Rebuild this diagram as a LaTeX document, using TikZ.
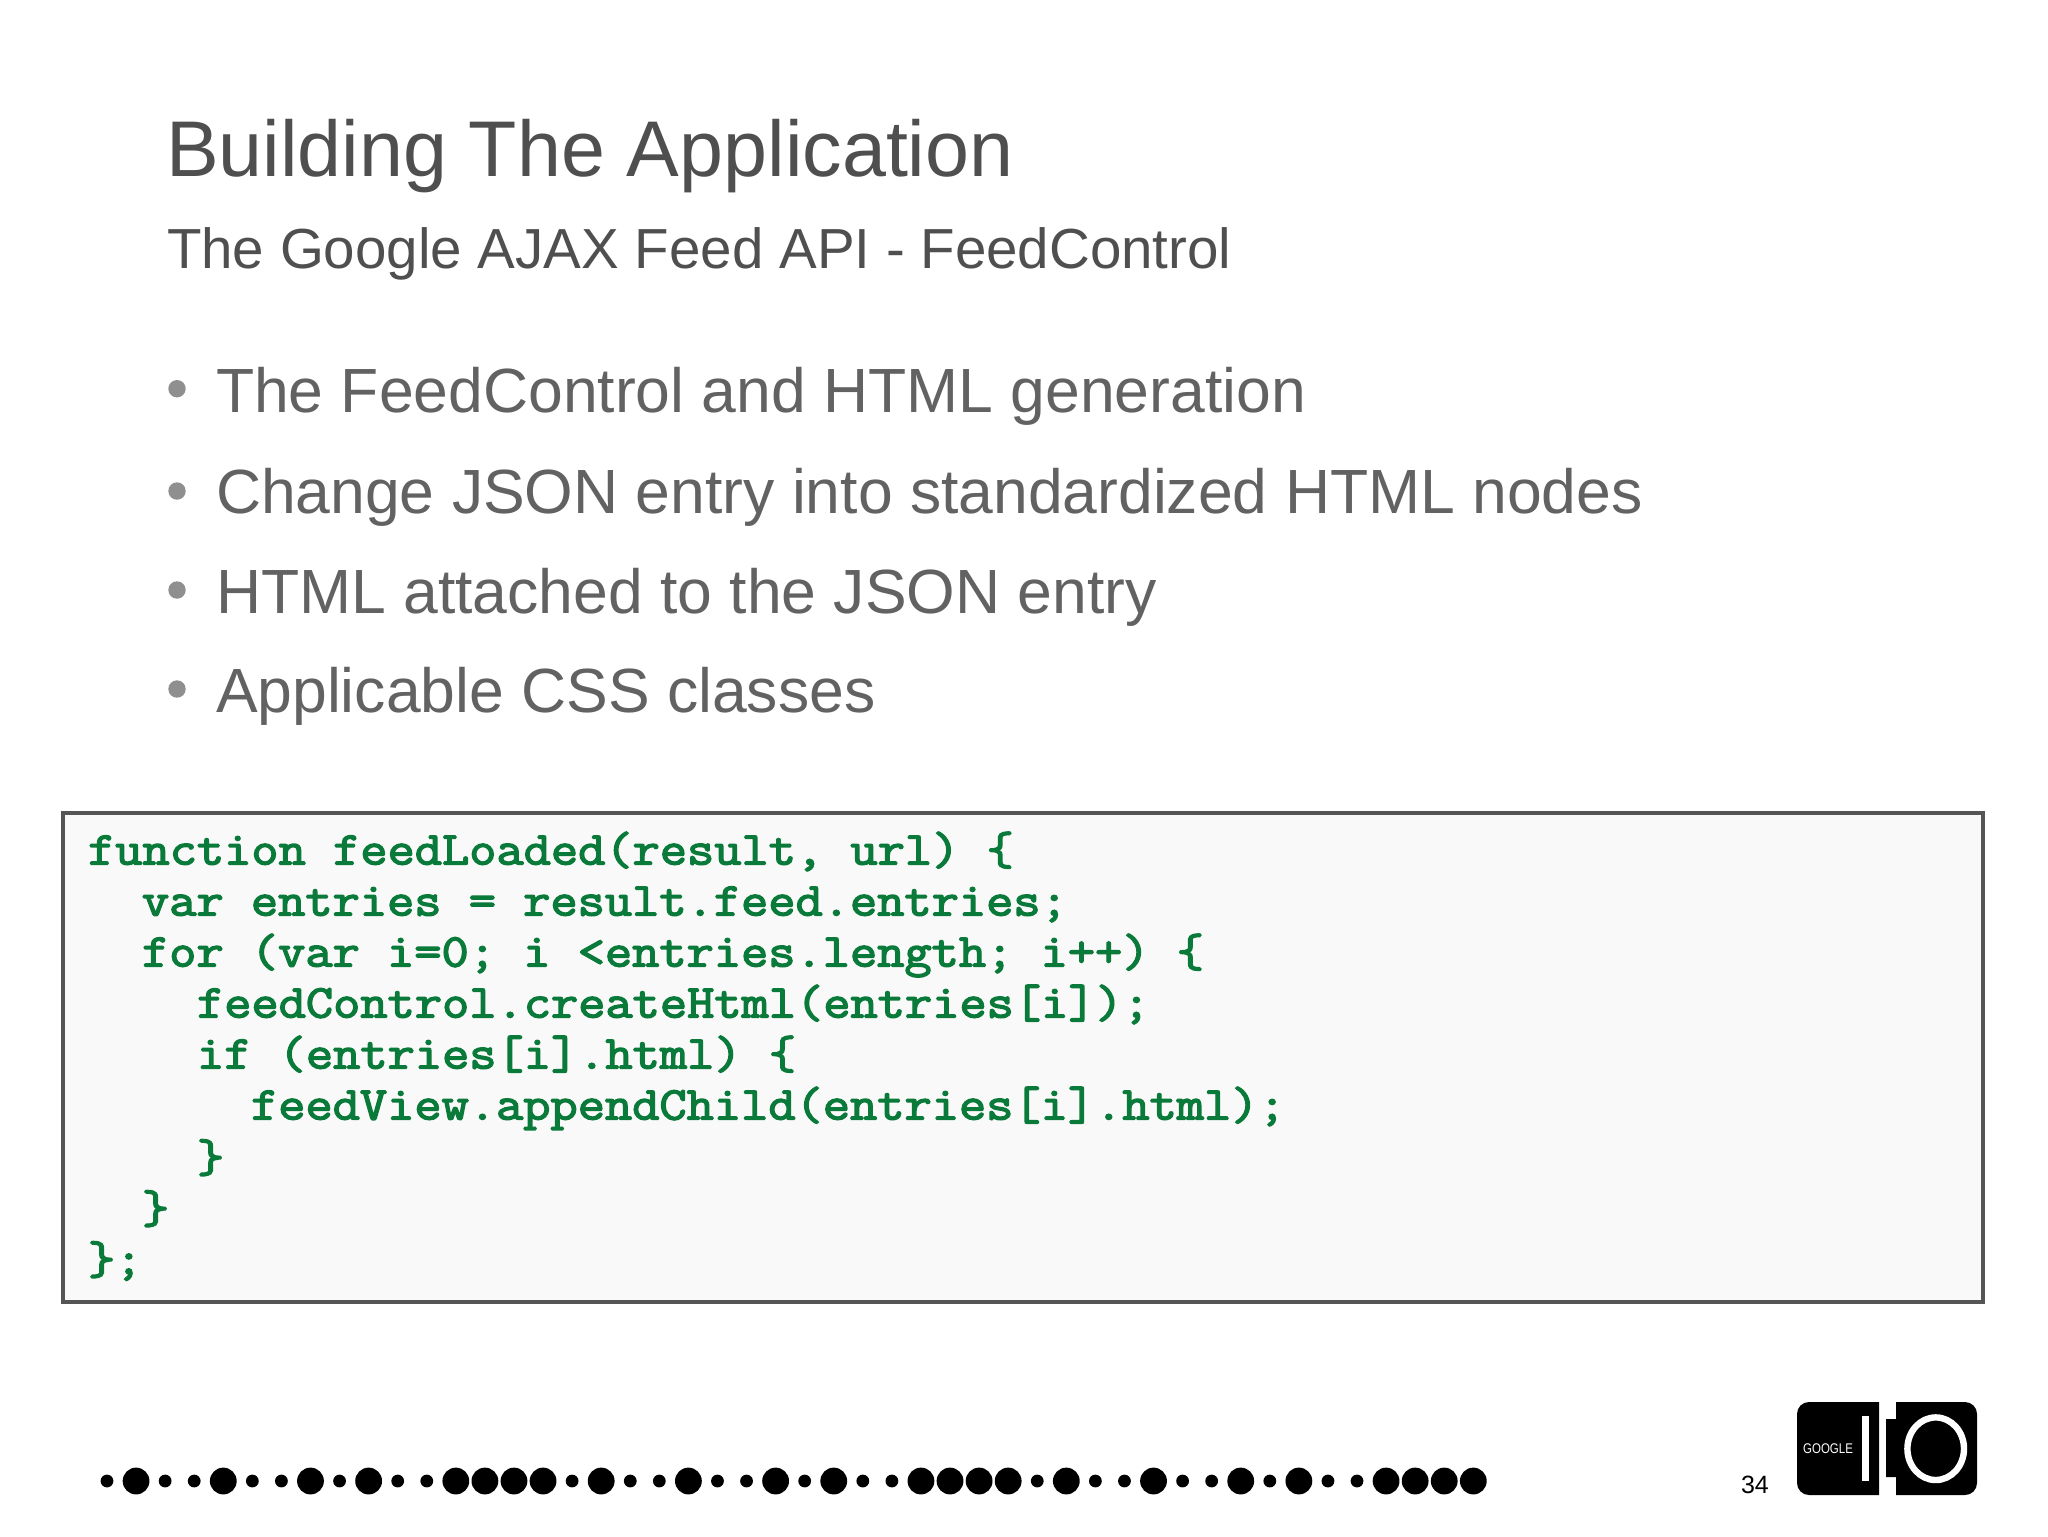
\documentclass[tikz,border=0pt]{standalone}
\usepackage{fontspec}
\setmainfont{Liberation Sans}
\newfontfamily\codefont{Latin Modern Mono}[FakeStretch=1.125,FakeBold=3]
\newfontfamily\logofont{Liberation Sans}[FakeStretch=0.82]
\definecolor{titlegray}{HTML}{4F4F4F}
\definecolor{bodygray}{HTML}{626262}
\definecolor{dotgray}{HTML}{8F8F8F}
\definecolor{framegray}{HTML}{555555}
\definecolor{codebg}{HTML}{F9F9F9}
\definecolor{codegreen}{HTML}{0A7A3A}
\newcommand{\fs}[1]{\fontsize{\dimexpr #1pt*3/4\relax}{\dimexpr #1pt*3/4\relax}\selectfont}
\tikzset{
  txt/.style={anchor=base west,inner sep=0pt,outer sep=0pt},
  titletext/.style={txt,text=titlegray,font=\fs{79}},
  subtext/.style={txt,text=titlegray,font=\fs{56.5}},
  bullettext/.style={txt,text=bodygray,font=\fs{62.45}},
  bulletdot/.style={fill=dotgray},
  codeline/.style={txt,text=codegreen,font=\codefont\fs{47}},
}
\begin{document}
\begin{tikzpicture}[x=0.75pt,y=-0.75pt]
\useasboundingbox (0,0) rectangle (2048,1536);
\fill[white] (0,0) rectangle (2048,1536);
\node[titletext] (title) at (166,176) {Building The Application};
\node[subtext] (subtitle) at (167,268.5) {The Google AJAX Feed API - FeedControl};
\node[bullettext] (b1) at (216,412) {The FeedControl and HTML generation};
\node[bullettext] (b2) at (216,513) {Change JSON entry into standardized HTML nodes};
\node[bullettext] (b3) at (216,613) {HTML attached to the JSON entry};
\node[bullettext] (b4) at (216,712) {Applicable CSS classes};
\foreach \yy in {388.7,491,590,689}{\fill[bulletdot] (177,\yy) circle[radius=8.7];}
\draw[framegray,line width=2.3pt,fill=codebg] (63,813) rectangle (1983,1302);
\node[codeline] (c1) at (88,864.5) {function feedLoaded(result, url) \{};
\node[codeline] (c2) at (142,915.5) {var entries = result.feed.entries;};
\node[codeline] (c3) at (142,966.5) {for (var i=0; i <entries.length; i++) \{};
\node[codeline] (c4) at (197,1017.5) {feedControl.createHtml(entries[i]);};
\node[codeline] (c5) at (197,1068.5) {if (entries[i].html) \{};
\node[codeline] (c6) at (251,1119.5) {feedView.appendChild(entries[i].html);};
\node[codeline] (c7) at (197,1172) {\}};
\node[codeline] (c8) at (142,1223) {\}};
\node[codeline] (c9) at (88,1274) {\};};
% dot rhythm
\foreach \i in {0,2,3,5,6,8,10,11,16,18,19,21,22,24,26,27,32,34,35,37,38,40,42,43}{\fill[black] (107+\i*29.07,1481) circle[radius=6.4];}
\foreach \i in {1,4,7,9,12,13,14,15,17,20,23,25,28,29,30,31,33,36,39,41,44,45,46,47}{\fill[black] (107+\i*29.07,1481) circle[radius=13.4];}
\node[txt,text=black,font=\fs{25}] (pagenum) at (1741,1493) {34};
% logo
\fill[black] (1879,1402) [rounded corners=9pt] -- (1797,1402) -- (1797,1495) [sharp corners] -- (1879,1495) -- cycle;
\fill[black] (1896,1402) [rounded corners=9pt] -- (1977,1402) -- (1977,1495) [sharp corners] -- (1896,1495) -- (1896,1477) -- (1886,1477) -- (1886,1419) -- (1896,1419) -- cycle;
\fill[white] (1862,1416) rectangle (1869,1481);
\draw[white,line width=4.8pt] (1935.7,1448.7) ellipse[x radius=28.3,y radius=31.3];
\node[anchor=center,inner sep=0pt,text=white,font=\logofont\fs{14}] (google) at (1828,1449) {GOOGLE};
\end{tikzpicture}
\end{document}
